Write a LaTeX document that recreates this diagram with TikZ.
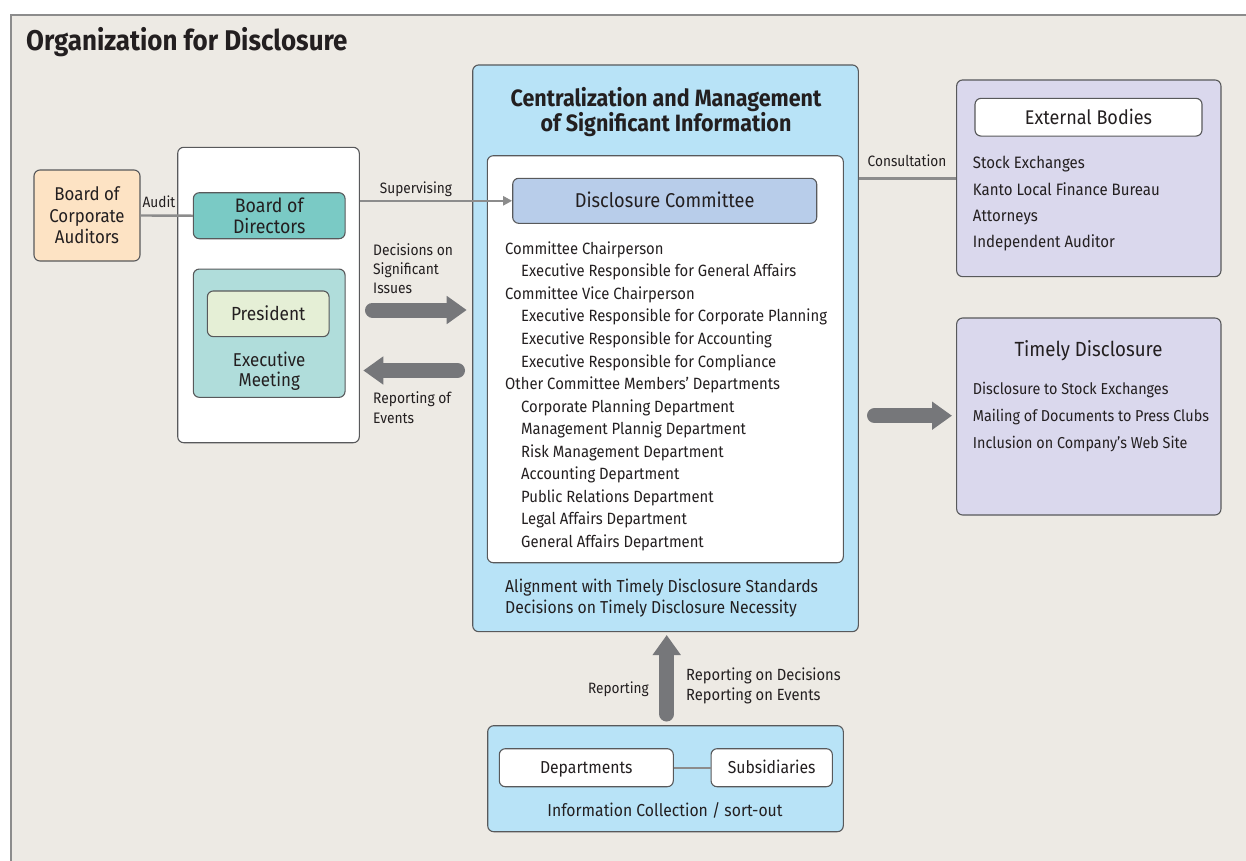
\documentclass[tikz,border=0pt]{standalone}
\usepackage{fontspec}
\setmainfont{Fira Sans}[FakeStretch=0.91]
\usetikzlibrary{arrows.meta}
\definecolor{bgc}{HTML}{EDEAE4}
\definecolor{framec}{HTML}{8C8C8C}
\definecolor{edgec}{HTML}{58595B}
\definecolor{txtc}{HTML}{231F20}
\definecolor{peach}{HTML}{FDE3C4}
\definecolor{teal}{HTML}{7ACAC5}
\definecolor{teallt}{HTML}{B0DDDB}
\definecolor{presg}{HTML}{E5EFD6}
\definecolor{cblue}{HTML}{B8E3F7}
\definecolor{dcblue}{HTML}{B8CDEA}
\definecolor{lav}{HTML}{DAD8ED}
\definecolor{arrg}{HTML}{76777A}
\newcommand\myfs[2]{\fontsize{#1}{#2}\selectfont}
\tikzset{
  box/.style={draw=edgec, line width=1.1pt, rounded corners=6pt, inner sep=0pt, text=txtc, align=center},
  conn/.style={draw=framec, line width=2.4pt},
  fat/.style={draw=arrg, line width=15pt, line cap=round, -{Triangle[width=27pt,length=20pt]}},
  lbl/.style={text=txtc, inner sep=0pt, anchor=base west},
  small/.style={font=\myfs{15}{19}},
  list/.style={font=\myfs{16.3}{20}},
  bottxt/.style={font=\myfs{17.3}{21}},
  even/.style={text height=#1, text depth=0pt},
}
\begin{document}
\begin{tikzpicture}[x=1pt,y=-1pt]
\useasboundingbox (0,0) rectangle (1246,860);
\fill[white] (0,0) rectangle (1246,860);
\fill[bgc] (11,15) rectangle (1260,870);
\draw[framec, line width=2.5pt] (11,870) -- (11,15) -- (1260,15);
\node[lbl, font=\myfs{28.5}{32}\bfseries] (title) at (26,50) {Organization for Disclosure};

% left side
\node[box, fill=peach, minimum width=106pt, minimum height=91pt, font=\myfs{18.5}{21.5}] (bca) at (87,215.5) {Board of\\Corporate\\Auditors};
\node[box, fill=white, minimum width=181.6pt, minimum height=295.4pt] (lwb) at (268.5,295) {};
\node[box, fill=teal, minimum width=151.7pt, minimum height=46pt, font=\myfs{19.5}{20.5}] (bod) at (269.2,215.7) {Board of\\Directors};
\node[box, fill=teallt, minimum width=151.7pt, minimum height=128.3pt] (exm) at (269.2,333.2) {};
\node[box, fill=presg, minimum width=121.7pt, minimum height=45.7pt, font=\myfs{19}{22}, even=13.3pt] (pres) at (268.2,313.8) {President};
\node[text=txtc, align=center, inner sep=0pt, anchor=base, font=\myfs{18.6}{20.7}] (exmt) at (269.2,386.7) {Executive\\Meeting};

% central box
\node[box, fill=cblue, minimum width=385.6pt, minimum height=566.7pt] (cbox) at (665.5,348.3) {};
\node[text=txtc, align=center, inner sep=0pt, anchor=base, font=\myfs{23.6}{24}\bfseries] (ctitle) at (666,131.7) {Centralization and Management\\of Significant Information};
\node[box, fill=white, minimum width=356pt, minimum height=407pt] (inner) at (665.3,359.2) {};
\node[box, fill=dcblue, minimum width=304pt, minimum height=45pt, font=\myfs{20}{22}, even=14pt] (dc) at (664.7,200.8) {Disclosure Committee};
\foreach \t/\x [count=\i from 0] in {
  Committee Chairperson/505,
  Executive Responsible for General Affairs/521,
  Committee Vice Chairperson/505,
  Executive Responsible for Corporate Planning/521,
  Executive Responsible for Accounting/521,
  Executive Responsible for Compliance/521,
  Other Committee Members’ Departments/505,
  Corporate Planning Department/521,
  Management Plannig Department/521,
  Risk Management Department/521,
  Accounting Department/521,
  Public Relations Department/521,
  Legal Affairs Department/521,
  General Affairs Department/521}
  \node[lbl, list] (li\i) at (\x,254.3+22.55*\i) {\t};
\node[lbl, bottxt] (al1) at (505,592.7) {Alignment with Timely Disclosure Standards};
\node[lbl, bottxt] (al2) at (505,613.3) {Decisions on Timely Disclosure Necessity};

% right side
\node[box, fill=lav, minimum width=264.3pt, minimum height=196.7pt] (ext) at (1088.8,178.3) {};
\node[box, fill=white, minimum width=227pt, minimum height=37.7pt, font=\myfs{19.8}{22}, even=13.9pt] (extt) at (1088.5,117.2) {External Bodies};
\foreach \t/\y [count=\i] in {Stock Exchanges/168.3, Kanto Local Finance Bureau/195, Attorneys/221.3, Independent Auditor/247.7}
  \node[lbl, font=\myfs{16.5}{20}] (ex\i) at (972.7,\y) {\t};
\node[box, fill=lav, minimum width=264.3pt, minimum height=197pt] (tim) at (1088.8,416.5) {};
\node[text=txtc, inner sep=0pt, anchor=base, font=\myfs{20.5}{22}] (timt) at (1088.5,356) {Timely Disclosure};
\foreach \t/\y [count=\i] in {Disclosure to Stock Exchanges/394, Mailing of Documents to Press Clubs/421, Inclusion on Company’s Web Site/448.3}
  \node[lbl, font=\myfs{15.8}{20}] (td\i) at (972.7,\y) {\t};

% bottom box
\node[box, fill=cblue, minimum width=355.6pt, minimum height=106pt] (bot) at (665.5,778.7) {};
\node[box, fill=white, minimum width=174pt, minimum height=38pt, bottxt, even=12pt] (dep) at (586.3,767.7) {Departments};
\node[box, fill=white, minimum width=121.3pt, minimum height=38pt, bottxt, even=12pt] (sub) at (771.7,767.7) {Subsidiaries};
\node[text=txtc, inner sep=0pt, anchor=base, bottxt] (icol) at (665,816.7) {Information Collection / sort-out};

% connectors
\draw[conn] (bca.east) -- (bod.west);
\node[text=txtc, inner sep=0pt, anchor=base, small] (audl) at (159,207) {Audit};
\draw[conn, -{Triangle[width=9pt,length=9pt]}] (dc.west -| lwb.east) -- (dc.west);
\node[text=txtc, inner sep=0pt, anchor=base, small] (supl) at (416,193) {Supervising};
\draw[conn] (ext.west -| cbox.east) -- (ext.west);
\node[text=txtc, inner sep=0pt, anchor=base, small] (conl) at (907,166) {Consultation};
\draw[conn] (dep.east) -- (sub.west);

\coordinate (a1s) at (372.5,310);
\coordinate (a1e) at (466.7,310);
\coordinate (a2s) at (457.5,370.5);
\coordinate (a2e) at (363.3,370.5);
\coordinate (a3s) at (874.5,415.7);
\coordinate (a3e) at (952,415.7);
\coordinate (a4s) at (666.7,714);
\coordinate (a4e) at (666.7,635);
\draw[fat] (a1s) -- (a1e);
\draw[fat] (a2s) -- (a2e);
\draw[fat] (a3s) -- (a3e);
\draw[fat] (a4s) -- (a4e);

\node[lbl, align=left, font=\myfs{15.2}{19}] (decl) at (373,293) {Decisions on\\Significant\\Issues};
\node[lbl, align=left, font=\myfs{15.2}{20}] (repl) at (373,423) {Reporting of\\Events};
\node[text=txtc, inner sep=0pt, anchor=base east, small] (rptl) at (649,693.3) {Reporting};
\node[lbl, align=left, font=\myfs{16.2}{20.7}] (rpd) at (686,700.7) {Reporting on Decisions\\Reporting on Events};
\end{tikzpicture}
\end{document}
